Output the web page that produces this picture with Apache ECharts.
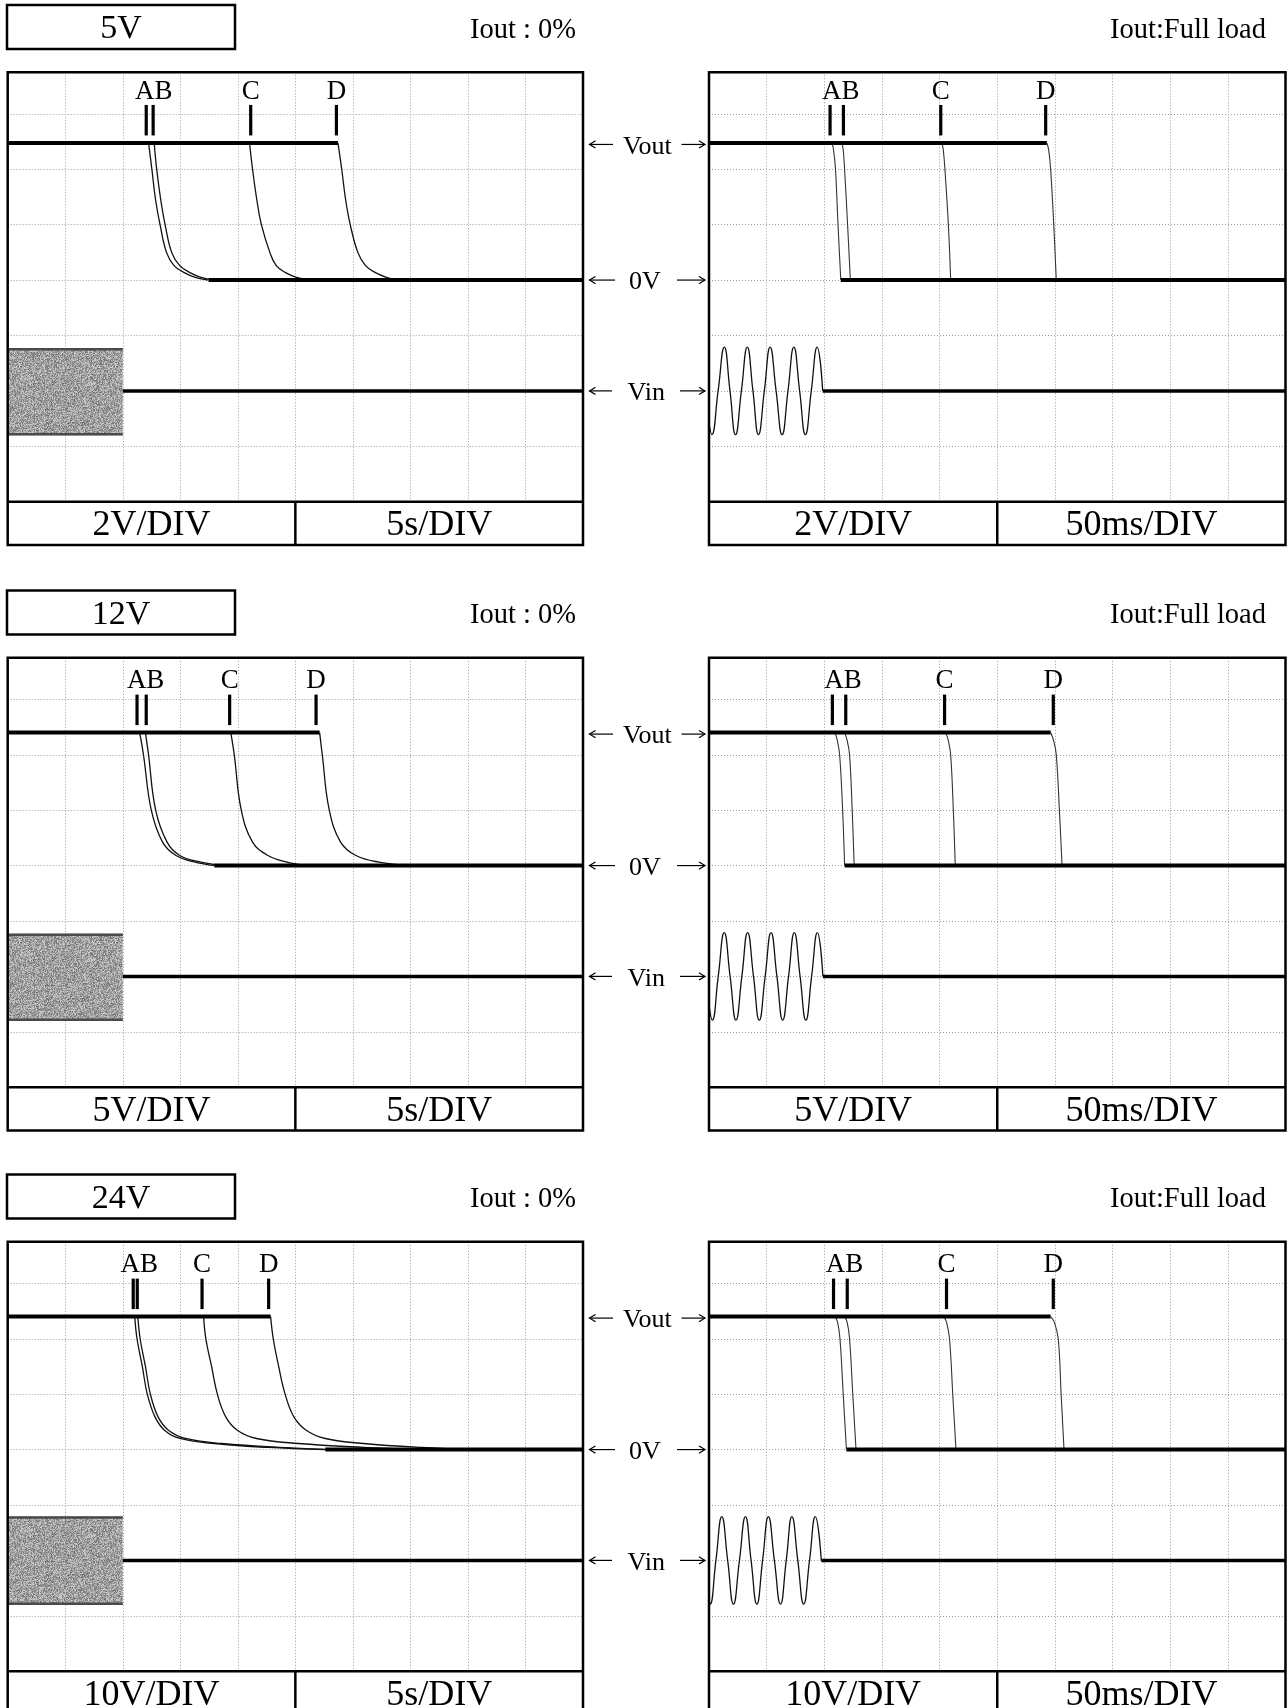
<!DOCTYPE html>
<html>
<head>
<meta charset="utf-8">
<script src="https://cdn.jsdelivr.net/npm/echarts@6/dist/echarts.min.js"></script>
<style>
  html, body { margin: 0; padding: 0; background: #fff; }
  #c { width: 1288px; height: 1708px; }
</style>
</head>
<body>
<div id="c"></div>
<script>
// ---- Hold-up test captures: three outputs, no load (5 s/div) and full load (50 ms/div) ----
const outputNames = ['5V', '12V', '24V'];
const voltsPerDiv = [2, 5, 10];
const voutLevel = [4.95, 12, 24];
const loadNames = ['Iout : 0%', 'Iout:Full load'];
const timePerDiv = [5, 50];
const timeUnits = ['s', 'ms'];

// Output decay after the input is removed, traces A..D, [time, volts]
const fall5VNoLoad = [
  [[12.24, 4.95], [12.53, 4.0], [12.85, 2.9], [13.24, 2.0], [13.8, 1.0], [14.46, 0.52], [15.3, 0.28], [16.3, 0.1], [17.46, 0]],
  [[12.73, 4.95], [12.95, 4.0], [13.3, 2.9], [13.68, 2.0], [14.25, 1.0], [14.95, 0.52], [15.8, 0.28], [16.8, 0.1], [17.96, 0]],
  [[21.02, 4.95], [21.28, 4.0], [21.65, 2.9], [22.05, 2.0], [22.78, 1.0], [23.34, 0.52], [24.11, 0.28], [25.11, 0.1], [26.27, 0]],
  [[28.7, 4.95], [29.03, 4.0], [29.37, 2.9], [29.77, 2.0], [30.43, 1.0], [31.1, 0.52], [31.92, 0.28], [32.92, 0.1], [33.92, 0]]
];
const fall5VFull = [
  [[106.7, 4.95], [108.0, 4.7], [109.7, 4.0], [111.9, 2.0], [114.3, 0]],
  [[115.3, 4.95], [116.4, 4.7], [117.6, 4.0], [120.2, 2.0], [122.6, 0]],
  [[202.0, 4.95], [203.2, 4.7], [204.6, 4.0], [207.6, 2.0], [209.6, 0]],
  [[293.0, 4.95], [294.6, 4.7], [296.3, 4.0], [299.0, 2.0], [301.2, 0]]
];
const fall12VNoLoad = [
  [[11.47, 12], [11.8, 10], [12.47, 5.05], [13.46, 2.12], [14.63, 0.91], [16.29, 0.31], [17.96, 0]],
  [[11.97, 12], [12.24, 10], [12.85, 5.05], [13.85, 2.12], [14.96, 0.91], [16.79, 0.31], [18.95, 0]],
  [[19.39, 12], [19.69, 10], [20.29, 5.05], [21.28, 2.12], [22.61, 0.91], [24.27, 0.31], [25.94, 0]],
  [[27.11, 12], [27.34, 10], [27.94, 5.05], [28.93, 2.12], [30.26, 0.91], [32.26, 0.31], [34.92, 0]]
];
const fall12VFull = [
  [[109.3, 12], [111.3, 11.3], [113.3, 10], [115.9, 5], [117.6, 0]],
  [[117.6, 12], [119.8, 11.3], [121.9, 10], [124.2, 5], [125.9, 0]],
  [[205.3, 12], [207.5, 11.3], [209.6, 10], [211.9, 5], [213.6, 0]],
  [[296.3, 12], [298.8, 11.3], [301.2, 10], [303.9, 5], [306.2, 0]]
];
const fall24VNoLoad = [
  [[11.04, 24], [11.24, 20], [11.7, 15], [12.13, 10], [12.8, 5.9], [13.63, 3.5], [14.96, 2.0], [17.96, 1.1], [22.61, 0.4], [27.6, 0]],
  [[11.31, 24], [11.51, 20], [11.97, 15], [12.4, 10], [13.07, 5.9], [13.97, 3.5], [15.46, 2.0], [18.62, 1.1], [23.61, 0.4], [28.6, 0]],
  [[17.03, 24], [17.22, 20], [17.72, 15], [18.22, 10], [18.95, 5.9], [19.95, 3.5], [21.62, 2.0], [25.27, 1.1], [30.93, 0.4], [35.92, 0]],
  [[22.85, 24], [23.08, 20], [23.55, 15], [24.11, 10], [24.87, 5.9], [25.94, 3.5], [27.6, 2.0], [30.93, 1.1], [35.92, 0.4], [40.91, 0]]
];
const fall24VFull = [
  [[109.3, 24], [111.5, 23], [113.6, 20], [116.4, 10], [119.2, 0]],
  [[117.6, 24], [119.8, 23], [121.9, 20], [124.7, 10], [127.5, 0]],
  [[203.6, 24], [206.0, 23], [208.6, 20], [211.4, 10], [214.2, 0]],
  [[296.3, 24], [299.5, 23], [302.9, 20], [305.4, 10], [307.9, 0]]
];

// Cursor positions A, B, C, D (time)
const marks5VNoLoad = [12.04, 12.64, 21.12, 28.57];
const marks5VFull = [105.0, 116.6, 201.0, 292.0];
const marks12VNoLoad = [11.24, 12.04, 19.29, 26.8];
const marks12VFull = [107.0, 118.6, 204.3, 298.6];
const marks24VNoLoad = [10.91, 11.26, 16.89, 22.68];
const marks24VFull = [108.0, 119.9, 206.0, 298.6];

// Input channel, in screen divisions about its own ground marker
const vinBand = [[0.77, -0.8], [0.77, -0.8], [0.79, -0.8]];   // AC envelope at 5 s/div
const vinCutNoLoad = [10, 10, 10];                             // s
const vinCutFull = [98.6, 98.8, 97.4];                          // ms
const vinWave5V = [[0, -0.58], [2.4, -0.79], [7.9, 0], [13.3, 0.79], [18.2, 0], [23.0, -0.79], [28.1, 0], [33.2, 0.79], [38.1, 0], [42.9, -0.79], [48.0, 0], [53.0, 0.79], [58.2, 0], [63.4, -0.79], [68.5, 0], [73.6, 0.79], [78.6, 0], [83.6, -0.79], [88.7, 0], [93.8, 0.79], [98.6, 0]];
const vinWave12V = [[0, -0.52], [2.8, -0.79], [8.0, 0], [13.2, 0.79], [18.3, 0], [23.4, -0.79], [28.5, 0], [33.5, 0.79], [38.6, 0], [43.6, -0.79], [48.7, 0], [53.8, 0.79], [58.9, 0], [63.9, -0.79], [69.0, 0], [74.0, 0.79], [79.0, 0], [84.0, -0.79], [89.0, 0], [94.0, 0.79], [98.8, 0]];
const vinWave24V = [[0, -0.72], [1.0, -0.79], [6.0, 0], [11.1, 0.79], [16.2, 0], [21.2, -0.79], [26.4, 0], [31.6, 0.79], [36.5, 0], [41.5, -0.79], [46.5, 0], [51.5, 0.79], [56.7, 0], [62.0, -0.79], [67.0, 0], [71.9, 0.79], [77.0, 0], [82.1, -0.79], [87.2, 0], [92.2, 0.79], [97.4, 0]];

const fallTraces = [[fall5VNoLoad, fall5VFull], [fall12VNoLoad, fall12VFull], [fall24VNoLoad, fall24VFull]];
const markTimes = [[marks5VNoLoad, marks5VFull], [marks12VNoLoad, marks12VFull], [marks24VNoLoad, marks24VFull]];
const vinWaves = [vinWave5V, vinWave12V, vinWave24V];

// ---- layout ----
const ROW_Y = [0, 585.5, 1169.5];
const COL_X = [7.7, 709];
const COL_W = [575.3, 576.5];
const GRID_TOP = 72.3, GRID_H = 429.4, STRIP_H = 43.3;
const FONT = '"Liberation Serif", "Times New Roman", serif';
const TEXT_DY = 2.5;

// grainy fill for the compressed AC envelope
function grainPattern() {
  const n = 96, cv = document.createElement('canvas');
  cv.width = cv.height = n;
  const ctx = cv.getContext('2d');
  const img = ctx.createImageData(n, n);
  let s = 20231;
  for (let i = 0; i < n * n; i++) {
    s = (s * 1103515245 + 12345) & 0x7fffffff;
    const v = 112 + ((s >> 9) % 96);
    img.data[4 * i] = img.data[4 * i + 1] = img.data[4 * i + 2] = v;
    img.data[4 * i + 3] = 255;
  }
  ctx.putImageData(img, 0, 0);
  return cv;
}
const grain = { image: grainPattern(), repeat: 'repeat' };

const chart = echarts.init(document.getElementById('c'), null, { renderer: 'canvas', width: 1288, height: 1708 });

const dotted = { show: true, lineStyle: { color: '#9c9c9c', width: 1, type: [1, 2] } };
const grids = [], xAxes = [], yAxes = [], series = [];

for (let r = 0; r < 3; r++) {
  for (let c = 0; c < 2; c++) {
    const g = r * 2 + c, vd = voltsPerDiv[r], td = timePerDiv[c];
    const yi = 2 * g, vi = 2 * g + 1, end = 10 * td, vout = voutLevel[r];
    grids.push({ left: COL_X[c], top: GRID_TOP + ROW_Y[r], width: COL_W[c], height: GRID_H });
    xAxes.push({
      gridIndex: g, type: 'value', min: 0, max: end, interval: td,
      axisLine: { show: false }, axisTick: { show: false }, axisLabel: { show: false }, splitLine: dotted
    });
    yAxes.push({
      gridIndex: g, type: 'value', min: -4 * vd, max: 3.75 * vd, interval: vd,
      axisLine: { show: false }, axisTick: { show: false }, axisLabel: { show: false }, splitLine: dotted
    });
    yAxes.push({ gridIndex: g, type: 'value', min: -2, max: 5.75, show: false, splitLine: { show: false } });

    const base = { xAxisIndex: g, symbol: 'none', silent: true, animation: false };
    if (c === 0) {
      const [hi, lo] = vinBand[r];
      series.push({
        type: 'custom', xAxisIndex: g, yAxisIndex: vi, silent: true, clip: true, z: 2,
        data: [[0, vinCutNoLoad[r], hi, lo]],
        encode: { x: [0, 1], y: [2, 3] },
        renderItem: (params, api) => {
          const p0 = api.coord([api.value(0), api.value(2)]);
          const p1 = api.coord([api.value(1), api.value(3)]);
          return {
            type: 'group', children: [
              { type: 'rect', shape: { x: p0[0], y: p0[1], width: p1[0] - p0[0], height: p1[1] - p0[1] }, style: { fill: grain } },
              { type: 'line', shape: { x1: p0[0], y1: p0[1] + 1, x2: p1[0], y2: p0[1] + 1 }, style: { stroke: '#4a4a4a', lineWidth: 2.5 } },
              { type: 'line', shape: { x1: p0[0], y1: p1[1] - 1, x2: p1[0], y2: p1[1] - 1 }, style: { stroke: '#4a4a4a', lineWidth: 2.5 } }
            ]
          };
        }
      });
      series.push(Object.assign({ type: 'line', yAxisIndex: vi, z: 4,
        data: [[vinCutNoLoad[r], 0], [end, 0]], lineStyle: { color: '#000', width: 3.5 } }, base));
    } else {
      series.push(Object.assign({ type: 'line', yAxisIndex: vi, z: 3, smooth: 0.5,
        data: vinWaves[r], lineStyle: { color: '#111', width: 1.3 } }, base));
      series.push(Object.assign({ type: 'line', yAxisIndex: vi, z: 4,
        data: [[vinCutFull[r], 0], [end, 0]], lineStyle: { color: '#000', width: 3.5 } }, base));
    }

    const falls = fallTraces[r][c];
    const thin = c === 0 ? { color: '#111', width: 1.3 } : { color: '#333', width: 1.1 };
    falls.forEach(tr => series.push(Object.assign({ type: 'line', yAxisIndex: yi, z: 3, smooth: 0.4,
      data: tr, lineStyle: thin }, base)));
    const tTop = Math.max(...falls.map(t => t[0][0]));
    const tBase = Math.min(...falls.map(t => t[t.length - 1][0]));
    series.push(Object.assign({ type: 'line', yAxisIndex: yi, z: 4,
      data: [[0, vout], [tTop, vout]], lineStyle: { color: '#000', width: 4 } }, base));
    series.push(Object.assign({ type: 'line', yAxisIndex: yi, z: 4,
      data: [[tBase, 0], [end, 0]], lineStyle: { color: '#000', width: 4 } }, base));
  }
}

chart.setOption({ animation: false, grid: grids, xAxis: xAxes, yAxis: yAxes, series });

// ---- frames, cursors and captions ----
const gfx = [];
function txt(x, y, s, size, align) {
  gfx.push({ type: 'text', x, y: y + TEXT_DY, z: 100, silent: true,
    style: { text: s, font: size + 'px ' + FONT, fill: '#000', textAlign: align || 'center', textVerticalAlign: 'middle' } });
}
function seg(x1, y1, x2, y2, w) {
  gfx.push({ type: 'line', z: 100, silent: true, shape: { x1, y1, x2, y2 }, style: { stroke: '#000', lineWidth: w } });
}
function box(x, y, w, h, lw) {
  gfx.push({ type: 'rect', z: 100, silent: true, shape: { x, y, width: w, height: h }, style: { fill: 'none', stroke: '#000', lineWidth: lw } });
}
// thin arrow with an open head; tip at xTip, tail at xTail
function arrow(xTail, xTip, y) {
  const d = xTip > xTail ? 1 : -1;
  gfx.push({ type: 'polyline', z: 100, silent: true,
    shape: { points: [[xTail, y], [xTip, y]] }, style: { stroke: '#000', lineWidth: 1.2, fill: 'none' } });
  gfx.push({ type: 'polyline', z: 100, silent: true,
    shape: { points: [[xTip - d * 6, y - 3.6], [xTip, y], [xTip - d * 6, y + 3.6]] },
    style: { stroke: '#000', lineWidth: 1.2, fill: 'none' } });
}

for (let r = 0; r < 3; r++) {
  const R = ROW_Y[r];
  box(7, 5 + R, 228, 44, 2.5);
  txt(121, 27 + R, outputNames[r], 34);
  txt(576, 28 + R, loadNames[0], 28.5, 'right');
  txt(1266, 28 + R, loadNames[1], 28.5, 'right');

  for (let c = 0; c < 2; c++) {
    const g = r * 2 + c, x = COL_X[c], w = COL_W[c];
    const top = GRID_TOP + R, bot = top + GRID_H;
    box(x, top, w, GRID_H + STRIP_H, 2.5);
    seg(x, bot, x + w, bot, 2.5);
    seg(x + w / 2, bot, x + w / 2, bot + STRIP_H, 2.5);
    txt(x + w / 4, bot + STRIP_H / 2, voltsPerDiv[r] + 'V/DIV', 36);
    txt(x + 3 * w / 4, bot + STRIP_H / 2, timePerDiv[c] + timeUnits[c] + '/DIV', 36);

    const finder = { xAxisIndex: g, yAxisIndex: 2 * g };
    const vy = chart.convertToPixel(finder, [0, voutLevel[r]])[1];
    const px = markTimes[r][c].map(t => chart.convertToPixel(finder, [t, voutLevel[r]])[0]);
    px.forEach(p => seg(p, vy - 38, p, vy - 7.5, 3.2));
    const ly = vy - 54;
    txt((px[0] + px[1]) / 2 + 4, ly, 'AB', 27);
    txt(px[2], ly, 'C', 27);
    txt(px[3], ly, 'D', 27);
  }

  // channel markers between the two screens
  const g = r * 2;
  const yOut = chart.convertToPixel({ xAxisIndex: g, yAxisIndex: 2 * g }, [0, voutLevel[r]])[1];
  const yZero = chart.convertToPixel({ xAxisIndex: g, yAxisIndex: 2 * g }, [0, 0])[1];
  const yIn = chart.convertToPixel({ xAxisIndex: g, yAxisIndex: 2 * g + 1 }, [0, 0])[1];
  [[yOut + 1.5, 'Vout', 647.4, 613, 681.5], [yZero, '0V', 645, 615, 677], [yIn, 'Vin', 646.3, 612, 680]]
    .forEach(([y, s, xc, xl, xr]) => {
      txt(xc, y, s, 26);
      arrow(xl, 589.5, y);
      arrow(xr, 705, y);
    });
}

chart.setOption({ graphic: gfx });
</script>
</body>
</html>
